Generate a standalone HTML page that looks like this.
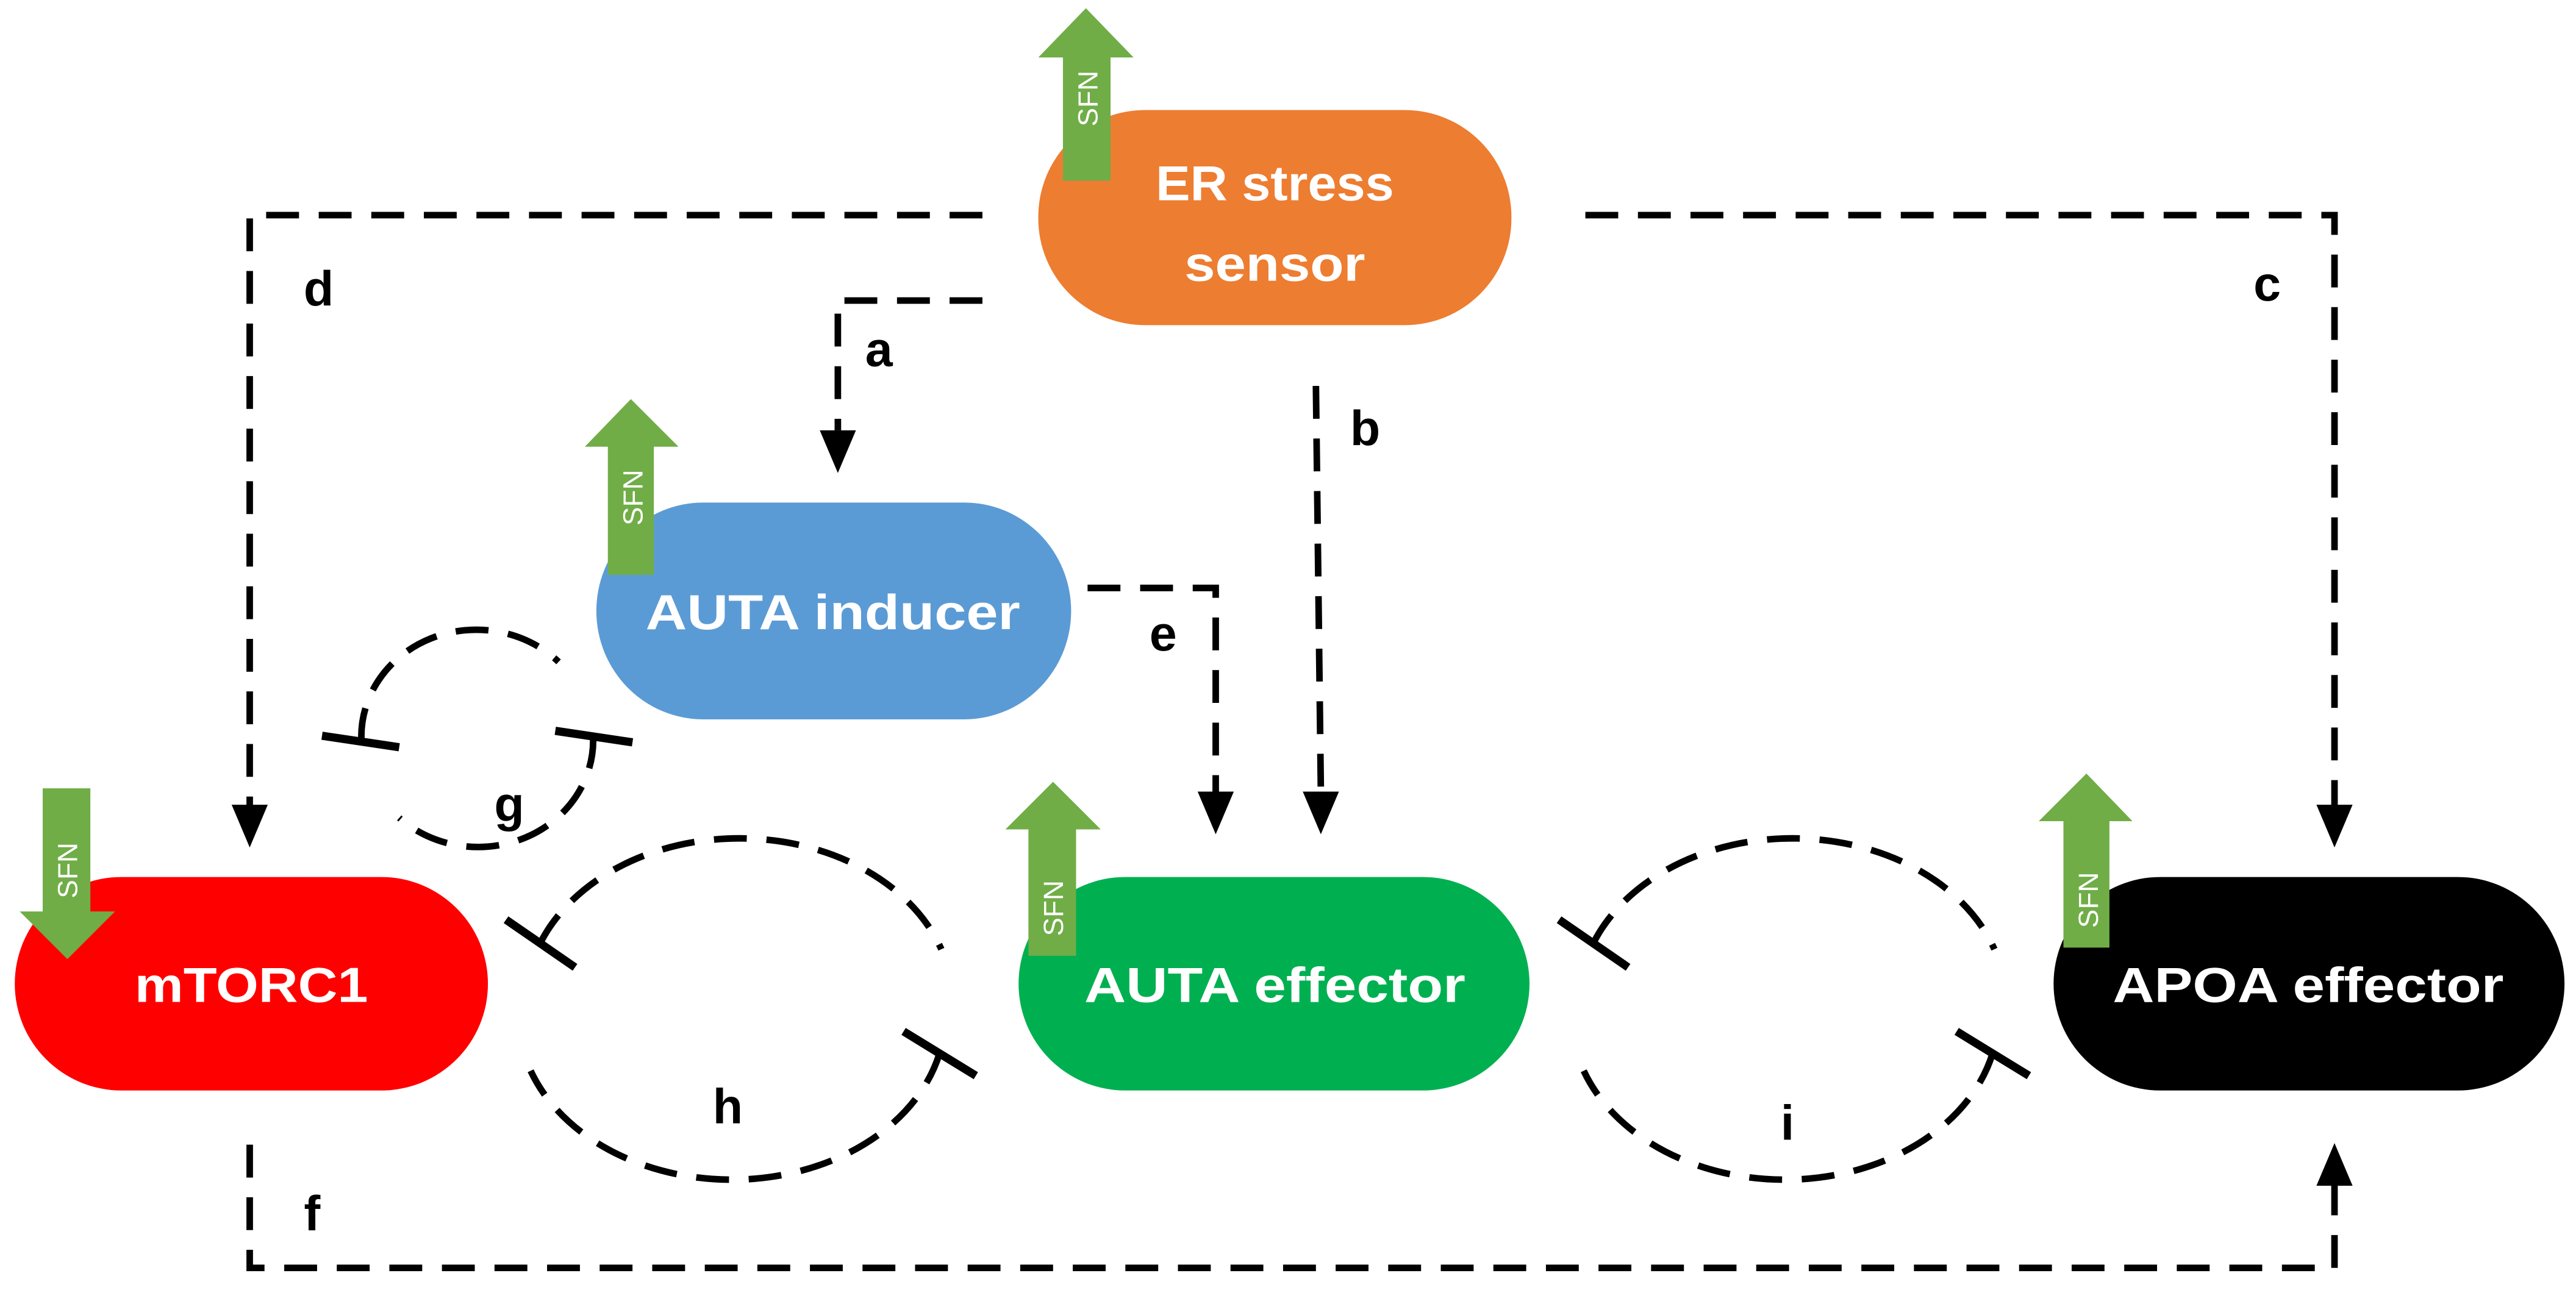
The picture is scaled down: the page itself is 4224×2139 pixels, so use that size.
<!DOCTYPE html>
<html><head><meta charset="utf-8"><style>
html,body{margin:0;padding:0;background:#fff;}
svg{display:block;}
</style></head><body>
<svg width="4224" height="2139" viewBox="0 0 1568 794" preserveAspectRatio="none" xmlns="http://www.w3.org/2000/svg">
<defs>
<marker id="ah" viewBox="0 0 22 26" refX="11" refY="26" markerWidth="22" markerHeight="26" markerUnits="userSpaceOnUse" orient="auto-start-reverse">
<path d="M0,0 L22,0 L11,26 Z" fill="#000"/>
</marker>
</defs>
<g fill="none" stroke="#000" stroke-width="4" stroke-dasharray="20 12">
<!-- top lines -->
<path d="M598,131 L152,131 L152,490"/>
<path d="M965,131 L1421,131 L1421,490"/>
<!-- a -->
<path d="M598,183 L510,183 L510,262"/>
<!-- b -->
<path d="M801,235 L804,482"/>
<!-- e -->
<path d="M662,358 L740,358 L740,482"/>
<!-- f -->
<path d="M152,697 L152,772 L1421,772 L1421,722"/>
<!-- g -->
<path d="M220,451 A70 65 0 0 1 340,403"/>
<path d="M361,448 A70 65 0 0 1 243,498"/>
<!-- h -->
<path d="M329,574 A130 100 0 0 1 573,578"/>
<path d="M572,641 A130 100 0 0 1 323,652"/>
<!-- i -->
<path d="M970,574 A130 100 0 0 1 1214,578"/>
<path d="M1213,641 A130 100 0 0 1 964,652"/>
</g>
<!-- arrowheads -->
<g fill="#000">
<path d="M141,490 L163,490 L152,516 Z"/>
<path d="M1410,490 L1432,490 L1421,516 Z"/>
<path d="M499,262 L521,262 L510,288 Z"/>
<path d="M793,482 L815,482 L804,508 Z"/>
<path d="M729,482 L751,482 L740,508 Z"/>
<path d="M1410,722 L1432,722 L1421,696 Z"/>
</g>
<!-- T bars -->
<g stroke="#000" stroke-width="5" fill="none">
<path d="M196,448 L243,455"/>
<path d="M338,445 L385,452"/>
<path d="M308,560 L350,589"/>
<path d="M550,628 L594,655"/>
<path d="M949,560 L991,589"/>
<path d="M1191,628 L1235,655"/>
</g>
<!-- nodes -->
<rect x="632" y="67" width="288" height="131" rx="65" ry="65" fill="#ED7D31"/>
<rect x="363" y="306" width="289" height="132" rx="65" ry="66" fill="#5B9BD5"/>
<rect x="9" y="534" width="288" height="130" rx="65" ry="65" fill="#FF0000"/>
<rect x="620" y="534" width="311" height="130" rx="65" ry="65" fill="#00B050"/>
<rect x="1250" y="534" width="311" height="130" rx="65" ry="65" fill="#000"/>
<!-- node text -->
<g fill="#fff" font-family="Liberation Sans, sans-serif" font-weight="bold" font-size="30" text-anchor="middle">
<text x="776" y="122" textLength="145" lengthAdjust="spacingAndGlyphs">ER stress</text>
<text x="776" y="171" textLength="110" lengthAdjust="spacingAndGlyphs">sensor</text>
<text x="507" y="383" textLength="228" lengthAdjust="spacingAndGlyphs">AUTA inducer</text>
<text x="153" y="610" textLength="142" lengthAdjust="spacingAndGlyphs">mTORC1</text>
<text x="776" y="610" textLength="232" lengthAdjust="spacingAndGlyphs">AUTA effector</text>
<text x="1405" y="610" textLength="238" lengthAdjust="spacingAndGlyphs">APOA effector</text>
</g>
<!-- SFN arrows -->
<g fill="#70AD47">
<path d="M647,110 L647,35 L632,35 L661,5 L690,35 L676,35 L676,110 Z"/>
<path d="M370,350 L370,272 L356,272 L384,243 L413,272 L398,272 L398,350 Z"/>
<path d="M26,480 L55,480 L55,555 L70,555 L41,584 L12,555 L26,555 Z"/>
<path d="M626,582 L626,505 L612,505 L641,476 L670,505 L655,505 L655,582 Z"/>
<path d="M1256,577 L1256,500 L1241,500 L1270,471 L1298,500 L1284,500 L1284,577 Z"/>
</g>
<g fill="#fff" font-family="Liberation Sans, sans-serif" font-size="17" text-anchor="middle">
<text transform="translate(668,60) rotate(-90)">SFN</text>
<text transform="translate(391,303) rotate(-90)">SFN</text>
<text transform="translate(47,530) rotate(-90)">SFN</text>
<text transform="translate(647,553) rotate(-90)">SFN</text>
<text transform="translate(1277,548) rotate(-90)">SFN</text>
</g>
<!-- labels -->
<g fill="#000" font-family="Liberation Sans, sans-serif" font-weight="bold" font-size="30" text-anchor="middle">
<text x="194" y="186">d</text>
<text x="535" y="223">a</text>
<text x="831" y="271">b</text>
<text x="1380" y="183">c</text>
<text x="708" y="396">e</text>
<text x="190" y="749">f</text>
<text x="310" y="500">g</text>
<text x="443" y="684">h</text>
<text x="1088" y="694">i</text>
</g>
</svg>
</body></html>
